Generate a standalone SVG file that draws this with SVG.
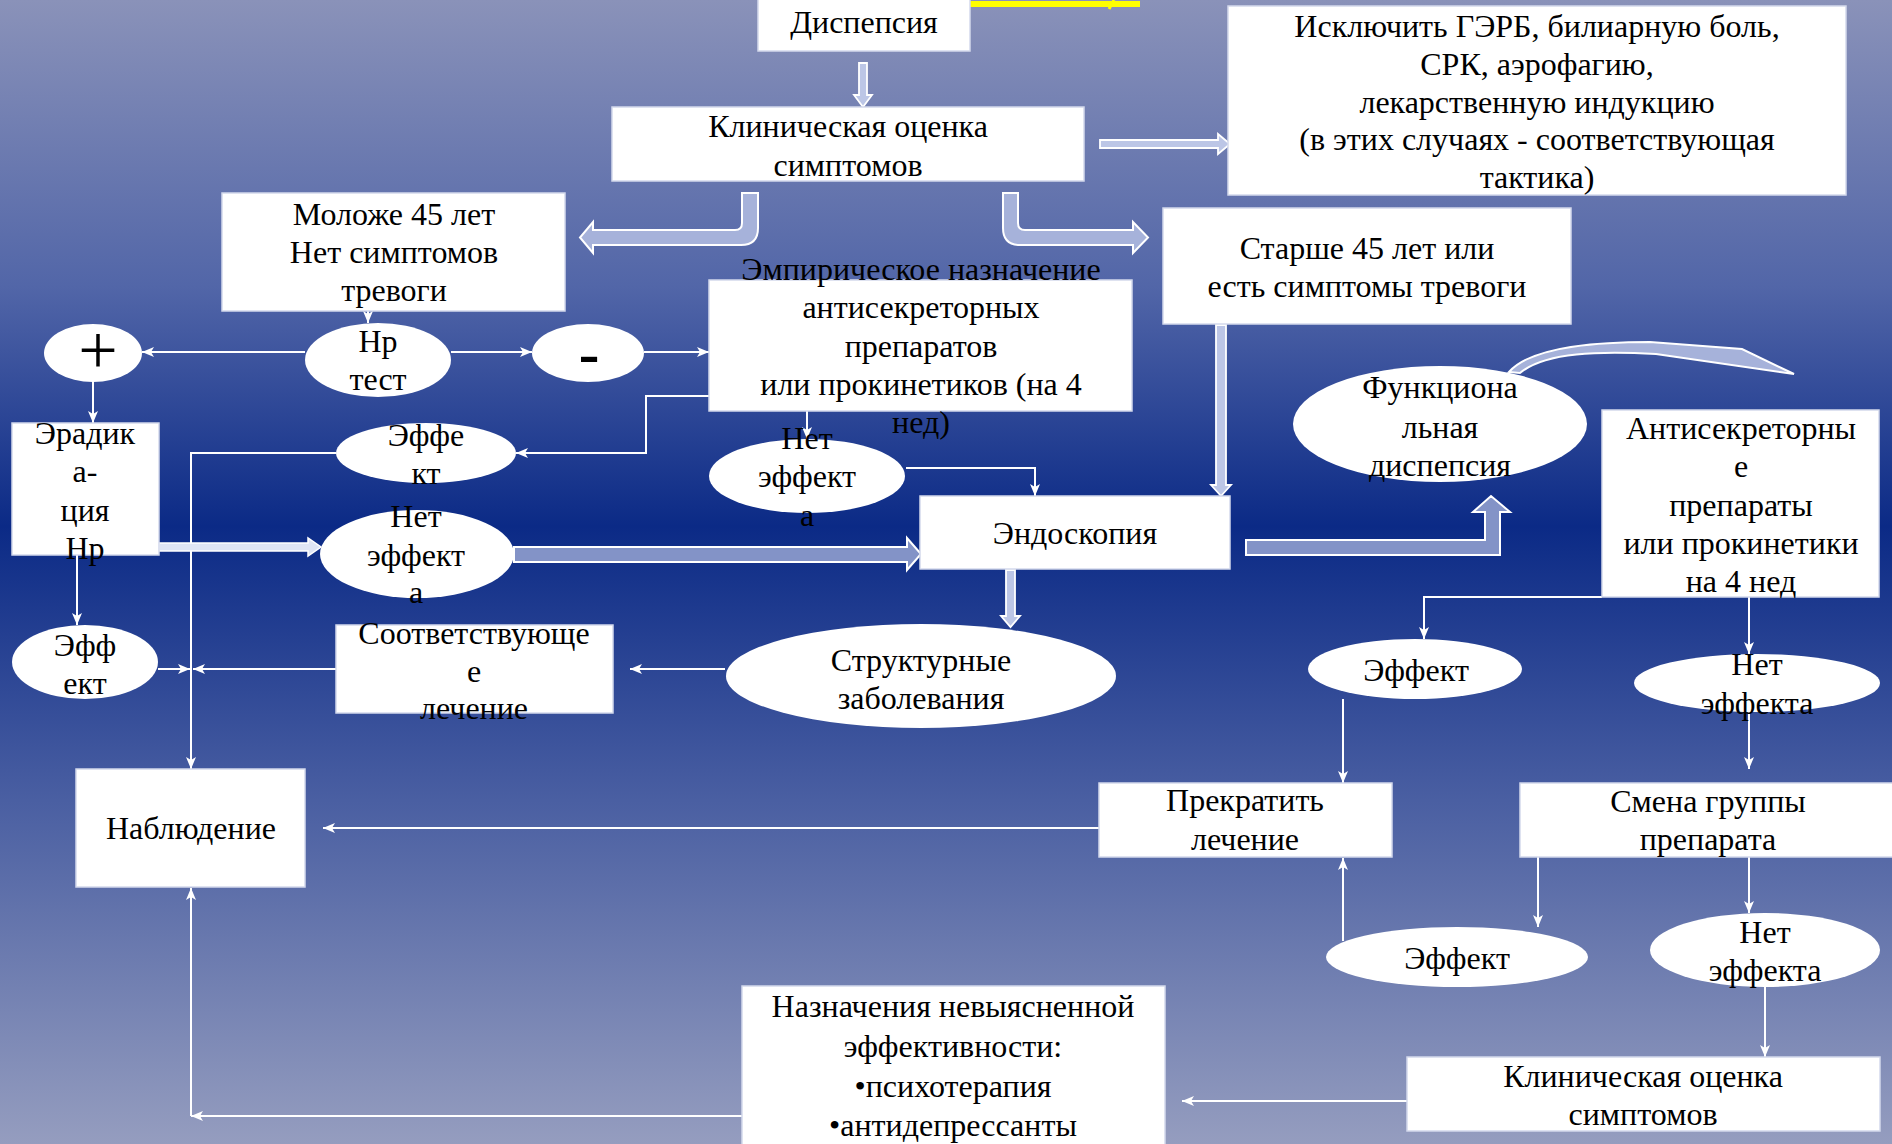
<svg xmlns="http://www.w3.org/2000/svg" width="1892" height="1144" viewBox="0 0 1892 1144">
<defs>
<linearGradient id="bg" x1="0" y1="0" x2="0" y2="1">
<stop offset="0" stop-color="#8a92b9"/>
<stop offset="0.25" stop-color="#5266a8"/>
<stop offset="0.46" stop-color="#0b2a86"/>
<stop offset="0.7" stop-color="#4a5fa2"/>
<stop offset="1" stop-color="#959dbf"/>
</linearGradient>
<marker id="ah" markerUnits="userSpaceOnUse" markerWidth="14" markerHeight="12" refX="12" refY="5" orient="auto">
<path d="M0,0 L12,5 L0,10 L3,5 Z" fill="#ffffff"/>
</marker>
<style>
.t{font-family:"Liberation Serif","Times New Roman",serif;font-size:32px;text-anchor:middle;fill:#000}
.box{fill:#fff;stroke:#d3d9ec;stroke-width:1.5}
.el{fill:#fff;stroke:none}
.c{fill:none;stroke:#fff;stroke-width:2;marker-end:url(#ah)}
.hol{fill:#bcc6e6;stroke:#fff;stroke-width:1.8}
.blk{fill:#8393c7;stroke:#fff;stroke-width:2}
.crv{fill:#a6b2da;stroke:#fff;stroke-width:2}
.wht{fill:#dfe5f5;stroke:#fff;stroke-width:1.5}
</style>
</defs>
<rect x="0" y="0" width="1892" height="1144" fill="url(#bg)"/>
<rect x="970" y="1" width="170" height="6" fill="#ffff00"/>
<path d="M1114,0 L1109,9" stroke="#ffff00" stroke-width="3"/>

<g id="connectors">
<path class="c" d="M368,311 L368,323"/>
<path class="c" d="M305,352 L142,352"/>
<path class="c" d="M451,352 L532,352"/>
<path class="c" d="M644,352 L709,352"/>
<path class="c" d="M93,382 L93,423"/>
<path class="c" d="M709,396 L646,396 L646,453 L516,453"/>
<path class="c" d="M336,453 L191,453 L191,769"/>
<path class="c" d="M77,555 L77,625"/>
<path class="c" d="M158,669 L190,669"/>
<path class="c" d="M336,669 L193,669"/>
<path class="c" d="M725,669 L630,669"/>
<path class="c" d="M807,411 L807,439"/>
<path class="c" d="M906,468 L1035,468 L1035,496"/>
<path class="c" d="M1602,597 L1424,597 L1424,639"/>
<path class="c" d="M1749,597 L1749,654"/>
<path class="c" d="M1343,699 L1343,783"/>
<path class="c" d="M1749,700 L1749,769"/>
<path class="c" d="M1538,857 L1538,927"/>
<path class="c" d="M1749,857 L1749,913"/>
<path class="c" d="M1343,941 L1343,858"/>
<path class="c" d="M1765,987 L1765,1057"/>
<path class="c" d="M1407,1101 L1182,1101"/>
<path class="c" d="M742,1116 L191,1116"/>
<path class="c" d="M191,1116 L191,888"/>
<path class="c" d="M1099,828 L323,828"/>
<path class="hol" d="M859,63 L867,63 L867,95 L872,95 L863,107 L854,95 L859,95 Z"/>
<path class="hol" d="M1100,140 L1218,140 L1218,134 L1230,144 L1218,154 L1218,148 L1100,148 Z"/>
<path class="hol" d="M1216,325 L1226,325 L1226,485 L1231,485 L1221,496 L1211,485 L1216,485 Z"/>
<path class="hol" d="M1006,570 L1015,570 L1015,616 L1020,616 L1010.5,627 L1001,616 L1006,616 Z"/>
<path class="crv" d="M742,193 L758,193 L758,228 Q758,245 741,245 L593,245 L593,253 L580,237.5 L593,222 L593,230 L735,230 Q742,230 742,223 Z"/>
<path class="crv" d="M1003,193 L1018,193 L1018,223 Q1018,230 1025,230 L1133,230 L1133,222 L1148,237.5 L1133,253 L1133,245 L1020,245 Q1003,245 1003,228 Z"/>
<path class="wht" d="M159,543 L308,543 L308,538 L321,547 L308,556 L308,551 L159,551 Z"/>
<path class="blk" d="M514,547 L907,547 L907,538 L921,554 L907,570 L907,562 L514,562 Z"/>
<path class="blk" d="M1246,540 L1485,540 L1485,512 L1473,512 L1491,496 L1510,512 L1500,512 L1500,555 L1246,555 Z"/>
<path class="crv" d="M1509,372 C1530,348 1590,342 1650,342 L1742,349 L1794,374 L1656,354 C1600,351 1545,352 1520,373 Z"/>
</g>

<g id="n-dyspepsia"><rect class="box" x="758" y="-2" width="212" height="53"/><text class="t" x="864" y="33">Диспепсия</text></g>
<g id="n-clinical"><rect class="box" x="612" y="107" width="472" height="74"/><text class="t" x="848" y="137">Клиническая оценка</text><text class="t" x="848" y="176">симптомов</text></g>
<g id="n-exclude"><rect class="box" x="1228" y="6" width="618" height="189"/>
<text class="t" x="1537" y="37">Исключить ГЭРБ, билиарную боль,</text>
<text class="t" x="1537" y="75">СРК, аэрофагию,</text>
<text class="t" x="1537" y="113">лекарственную индукцию</text>
<text class="t" x="1537" y="150">(в этих случаях - соответствующая</text>
<text class="t" x="1537" y="188">тактика)</text></g>
<g id="n-younger"><rect class="box" x="222" y="193" width="343" height="118"/>
<text class="t" x="394" y="225">Моложе 45 лет</text><text class="t" x="394" y="263">Нет симптомов</text><text class="t" x="394" y="301">тревоги</text></g>
<g id="n-older"><rect class="box" x="1163" y="208" width="408" height="116"/>
<text class="t" x="1367" y="259">Старше 45 лет или</text><text class="t" x="1367" y="297">есть симптомы тревоги</text></g>
<g id="n-empiric"><rect class="box" x="709" y="280" width="423" height="131"/>
<text class="t" x="921" y="280">Эмпирическое назначение</text>
<text class="t" x="921" y="318">антисекреторных</text>
<text class="t" x="921" y="357">препаратов</text>
<text class="t" x="921" y="395">или прокинетиков (на 4</text>
<text class="t" x="921" y="433">нед)</text></g>
<g id="n-hp"><ellipse class="el" cx="378" cy="360" rx="73" ry="37"/><text class="t" x="378" y="352">Нр</text><text class="t" x="378" y="390">тест</text></g>
<g id="n-plus"><ellipse class="el" cx="93" cy="353" rx="49" ry="29"/><text class="t" x="98" y="374" style="font-size:70px">+</text></g>
<g id="n-minus"><ellipse class="el" cx="588" cy="353" rx="56" ry="29"/><text class="t" x="589" y="374" style="font-size:62px;font-weight:bold">-</text></g>
<g id="n-erad"><rect class="box" x="12" y="423" width="147" height="132"/>
<text class="t" x="85" y="444">Эрадик</text><text class="t" x="85" y="482">а-</text><text class="t" x="85" y="521">ция</text><text class="t" x="85" y="559">Нр</text></g>
<g id="n-effect1"><ellipse class="el" cx="426" cy="453" rx="90" ry="30"/><text class="t" x="426" y="446">Эффе</text><text class="t" x="426" y="484">кт</text></g>
<g id="n-noeffect1"><ellipse class="el" cx="417" cy="554" rx="97" ry="44"/><text class="t" x="416" y="527">Нет</text><text class="t" x="416" y="566">эффект</text><text class="t" x="416" y="603">а</text></g>
<g id="n-effect2"><ellipse class="el" cx="85" cy="662" rx="73" ry="37"/><text class="t" x="85" y="656">Эфф</text><text class="t" x="85" y="694">ект</text></g>
<g id="n-treat"><rect class="box" x="336" y="625" width="277" height="88"/>
<text class="t" x="474" y="644">Соответствующе</text><text class="t" x="474" y="682">е</text><text class="t" x="474" y="719">лечение</text></g>
<g id="n-struct"><ellipse class="el" cx="921" cy="676" rx="195" ry="52"/><text class="t" x="921" y="671">Структурные</text><text class="t" x="921" y="709">заболевания</text></g>
<g id="n-endo"><rect class="box" x="920" y="496" width="310" height="73"/><text class="t" x="1075" y="544">Эндоскопия</text></g>
<g id="n-noeffect2"><ellipse class="el" cx="807" cy="476" rx="98" ry="37"/><text class="t" x="807" y="449">Нет</text><text class="t" x="807" y="487">эффект</text><text class="t" x="807" y="526">а</text></g>
<g id="n-func"><ellipse class="el" cx="1440" cy="424" rx="147" ry="58"/>
<text class="t" x="1440" y="398">Функциона</text><text class="t" x="1440" y="438">льная</text><text class="t" x="1440" y="476">диспепсия</text></g>
<g id="n-antisec"><rect class="box" x="1602" y="410" width="277" height="187"/>
<text class="t" x="1741" y="439">Антисекреторны</text><text class="t" x="1741" y="477">е</text><text class="t" x="1741" y="516">препараты</text><text class="t" x="1741" y="554">или прокинетики</text><text class="t" x="1741" y="592">на 4 нед</text></g>
<g id="n-effect3"><ellipse class="el" cx="1415" cy="669" rx="107" ry="30"/><text class="t" x="1416" y="681">Эффект</text></g>
<g id="n-noeffect3"><ellipse class="el" cx="1757" cy="683" rx="123" ry="29"/><text class="t" x="1757" y="675">Нет</text><text class="t" x="1757" y="714">эффекта</text></g>
<g id="n-stop"><rect class="box" x="1099" y="783" width="293" height="74"/><text class="t" x="1245" y="811">Прекратить</text><text class="t" x="1245" y="850">лечение</text></g>
<g id="n-change"><rect class="box" x="1520" y="783" width="374" height="74"/><text class="t" x="1708" y="812">Смена группы</text><text class="t" x="1708" y="850">препарата</text></g>
<g id="n-effect4"><ellipse class="el" cx="1457" cy="957" rx="131" ry="30"/><text class="t" x="1457" y="969">Эффект</text></g>
<g id="n-noeffect4"><ellipse class="el" cx="1765" cy="950" rx="115" ry="37"/><text class="t" x="1765" y="943">Нет</text><text class="t" x="1765" y="981">эффекта</text></g>
<g id="n-clinical2"><rect class="box" x="1407" y="1057" width="473" height="74"/><text class="t" x="1643" y="1087">Клиническая оценка</text><text class="t" x="1643" y="1125">симптомов</text></g>
<g id="n-unclear"><rect class="box" x="742" y="986" width="423" height="170"/>
<text class="t" x="953" y="1017">Назначения невыясненной</text><text class="t" x="953" y="1057">эффективности:</text><text class="t" x="953" y="1097">•психотерапия</text><text class="t" x="953" y="1136">•антидепрессанты</text></g>
<g id="n-observe"><rect class="box" x="76" y="769" width="229" height="118"/><text class="t" x="191" y="839">Наблюдение</text></g>
</svg>
